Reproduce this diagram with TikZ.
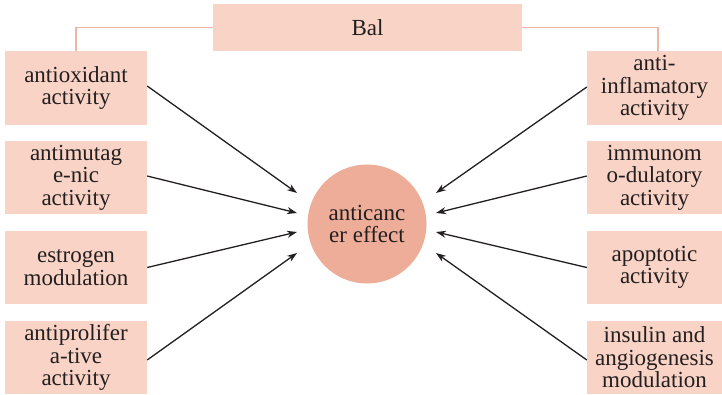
\documentclass[tikz,border=0pt]{standalone}
\usepackage{fontspec}
\setmainfont{Liberation Serif}
\usetikzlibrary{arrows.meta}
\definecolor{boxfill}{HTML}{F9D3C5}
\definecolor{circfill}{HTML}{EEAD98}
\definecolor{linkcol}{HTML}{F0B4A2}
\definecolor{txt}{HTML}{231F20}
\tikzset{
  itembox/.style={fill=boxfill, draw=none, inner sep=0pt, align=center, text=txt,
    font=\fontsize{23}{22.5}\selectfont},
  leftbox/.style={itembox, minimum width=142pt},
  rightbox/.style={itembox, minimum width=135pt},
  arr/.style={-{Stealth[length=10pt,width=7pt]}, line width=1.3pt, draw=txt},
  link/.style={draw=linkcol, line width=1.3pt},
}
\begin{document}
\begin{tikzpicture}[x=1pt,y=-1pt]
\useasboundingbox (0,0) rectangle (722,395);
\node[itembox, minimum width=309pt, minimum height=47pt] (bal) at (367.5,27.5) {Bal};
\node[leftbox, minimum height=74pt] (l1) at (76,88) {antioxidant\\activity};
\node[leftbox, minimum height=73pt] (l2) at (76,177.5) {antimutag\\e-nic\\activity};
\node[leftbox, minimum height=73pt] (l3) at (76,267.5) {estrogen\\modulation};
\node[leftbox, minimum height=73pt] (l4) at (76,357.5) {antiprolifer\\a-tive\\activity};
\node[rightbox, minimum height=74pt] (r1) at (654.5,88) {anti-\\inflamatory\\activity};
\node[rightbox, minimum height=73pt] (r2) at (654.5,177.5) {immunom\\o-dulatory\\activity};
\node[rightbox, minimum height=73pt] (r3) at (654.5,267.5) {apoptotic\\activity};
\node[rightbox, minimum height=73pt] (r4) at (654.5,357.5) {insulin and\\angiogenesis\\modulation};
\node[circle, fill=circfill, minimum size=119pt, inner sep=0pt, align=center, text=txt,
  font=\fontsize{23}{22.5}\selectfont] (c) at (367,224) {anticanc\\er effect};
\coordinate (tl1) at (297,193);
\coordinate (tl2) at (297,213);
\coordinate (tl3) at (297,232);
\coordinate (tl4) at (297,253);
\coordinate (tr1) at (436,193);
\coordinate (tr2) at (436,213);
\coordinate (tr3) at (436,232);
\coordinate (tr4) at (436,253);
\draw[link] (bal.west) -| (l1.north);
\draw[link] (bal.east) -| ([xshift=3.5pt]r1.north);
\draw[arr] ([yshift=2pt]l1.east) -- (tl1);
\draw[arr] ([yshift=1.5pt]l2.east) -- (tl2);
\draw[arr] (l3.east) -- (tl3);
\draw[arr] ([yshift=-2.5pt]l4.east) -- (tl4);
\draw[arr] ([yshift=1pt]r1.west) -- (tr1);
\draw[arr] ([yshift=1.5pt]r2.west) -- (tr2);
\draw[arr] (r3.west) -- (tr3);
\draw[arr] ([yshift=-2.5pt]r4.west) -- (tr4);
\end{tikzpicture}
\end{document}
